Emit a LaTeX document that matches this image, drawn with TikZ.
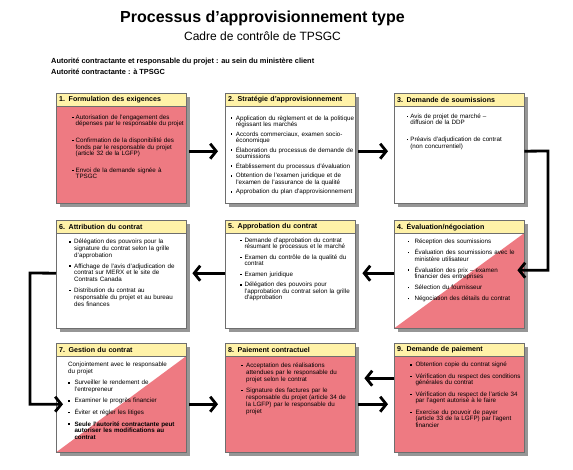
\documentclass[tikz,border=0pt]{standalone}
\usepackage{fontspec}
\setmainfont{Liberation Sans}
\usetikzlibrary{arrows.meta,shadows}

\definecolor{pinkc}{RGB}{238,122,130}
\definecolor{hdrc}{RGB}{255,242,168}
\definecolor{shadc}{RGB}{150,150,150}
\definecolor{bordc}{RGB}{110,110,110}

\newlength\bh
\newcommand\bul{\raisebox{1.3pt}{\rule{1.4pt}{1.4pt}}}
\newcommand\bi[1]{\par\noindent\hangindent=\bh\hangafter=1\makebox[\bh][l]{\bul}#1\par}
\newcommand\fst{\rule{0pt}{5pt}}
\newcommand\nl{\newline}
\newcommand\cset[3]{\setlength\bh{#1}\fontsize{6.25}{#2}\selectfont\setlength\parskip{#3}\lineskiplimit=-10pt\lineskip=0pt\parindent=0pt\hyphenpenalty=10000\vskip-\parskip}

\begin{document}
\begin{tikzpicture}[x=1pt,y=-1pt,
  box/.style={draw=bordc, line width=0.4pt, minimum width=130pt, anchor=north west, inner sep=0pt,
    drop shadow={shadow xshift=4pt, shadow yshift=-4pt, fill=shadc, opacity=1}},
  hdr/.style={draw=bordc, line width=0.4pt, fill=hdrc, anchor=north west, text width=124pt,
    inner xsep=3pt, inner ysep=0pt, minimum height=13pt, font=\bfseries\fontsize{7.1}{8}\selectfont},
  cnt/.style={anchor=north west, inner sep=0pt, text width=132pt, font=\fontsize{6.25}{6.6}\selectfont},
  arr/.style={line width=2.8pt, -{Straight Barb[length=6pt,width=15pt]}},
]
\useasboundingbox (0,0) rectangle (573,469);

% titles
\node[font=\bfseries\fontsize{16}{18}\selectfont] (title) at (262.5,18) {Processus d’approvisionnement type};
\node[font=\fontsize{12}{14}\selectfont] (sub) at (262.5,36) {Cadre de contrôle de TPSGC};
\node[anchor=west, inner sep=0pt, font=\bfseries\fontsize{7.4}{8}\selectfont] (l1) at (51,62) {Autorité contractante et responsable du projet : au sein du ministère client};
\node[anchor=west, inner sep=0pt, font=\bfseries\fontsize{7.4}{8}\selectfont] (l2) at (51,72) {Autorité contractante : à TPSGC};

% ---------- Row 1
\node[box, fill=pinkc, minimum height=110pt] (b1) at (56,93) {};
\node[hdr] (h1) at (b1.north west) {1. Formulation des exigences};
\node[cnt] (t1) at ([xshift=16pt,yshift=-19.4pt]b1.north west) {\cset{3.5pt}{6.6pt}{10pt}%
\bi{\fst Autorisation de l’engagement des\nl dépenses par le responsable du projet}
\bi{Confirmation de la disponibilité des\nl fonds par le responsable du projet\nl (article 32 de la LGFP)}
\bi{Envoi de la demande signée à\nl TPSGC}};

\node[box, fill=white, minimum height=110pt] (b2) at (225,93) {};
\node[hdr] (h2) at (b2.north west) {2. Stratégie d’approvisionnement};
\node[cnt] (t2) at ([xshift=5.5pt,yshift=-20.7pt]b2.north west) {\cset{5.2pt}{6.2pt}{3.6pt}%
\bi{\fst Application du règlement et de la politique\nl régissant les marchés}
\bi{Accords commerciaux, examen socio-\nl économique}
\bi{Élaboration du processus de demande de\nl soumissions}
\bi{Établissement du processus d’évaluation}
\bi{Obtention de l’examen juridique et de\nl l’examen de l’assurance de la qualité}
\bi{Approbation du plan d’approvisionnement}};

\node[box, fill=white, minimum height=110pt] (b3) at (394,93) {};
\node[hdr] (h3) at (b3.north west) {3. Demande de soumissions};
\node[cnt] (t3) at ([xshift=12.7pt,yshift=-18.4pt]b3.north west) {\cset{3.5pt}{6.6pt}{10pt}%
\bi{\fst Avis de projet de marché –\nl diffusion de la DDP}
\bi{Préavis d’adjudication de contrat\nl (non concurrentiel)}};

% ---------- Row 2
\node[box, fill=white, minimum height=108pt] (b6) at (56,220) {};
\node[hdr] (h6) at (b6.north west) {6. Attribution du contrat};
\node[cnt] (t6) at ([xshift=13pt,yshift=-16.7pt]b6.north west) {\cset{5pt}{6.9pt}{3.5pt}%
\bi{\fst Délégation des pouvoirs pour la\nl signature du contrat selon la grille\nl d’approbation}
\bi{Affichage de l’avis d’adjudication de\nl contrat sur MERX et le site de\nl Contrats Canada}
\bi{Distribution du contrat au\nl responsable du projet et au bureau\nl des finances}};

\node[box, fill=white, minimum height=108pt] (b5) at (225,220) {};
\node[hdr] (h5) at (b5.north west) {5. Approbation du contrat};
\node[cnt] (t5) at ([xshift=15pt,yshift=-16pt]b5.north west) {\cset{4.3pt}{6.2pt}{4.5pt}%
\bi{\fst Demande d’approbation du contrat\nl résumant le processus et le marché}
\bi{Examen du contrôle de la qualité du\nl contrat}
\bi{Examen juridique}
\bi{Délégation des pouvoirs pour\nl l’approbation du contrat selon la grille\nl d’approbation}};

\node[box, fill=white, minimum height=108pt] (b4) at (394,220) {};
\fill[pinkc] (b4.south west) -- (b4.south east) -- ([yshift=-13pt]b4.north east) -- cycle;
\draw[bordc, line width=0.4pt] (b4.north west) rectangle (b4.south east);
\node[hdr] (h4) at (b4.north west) {4. Évaluation/négociation};
\node[cnt] (t4) at ([xshift=13.7pt,yshift=-16.7pt]b4.north west) {\cset{6.6pt}{6.6pt}{4.4pt}%
\bi{\fst Réception des soumissions}
\bi{Évaluation des soumissions avec le\nl ministère utilisateur}
\bi{Évaluation des prix – examen\nl financier des entreprises}
\bi{Sélection du fournisseur}
\bi{Négociation des détails du contrat}};

% ---------- Row 3
\node[box, fill=white, minimum height=109pt] (b7) at (56,343) {};
\fill[pinkc] (b7.south west) -- (b7.south east) -- ([yshift=-13pt]b7.north east) -- cycle;
\draw[bordc, line width=0.4pt] (b7.north west) rectangle (b7.south east);
\node[hdr] (h7) at (b7.north west) {7. Gestion du contrat};
\node[cnt] (t7) at ([xshift=12pt,yshift=-17pt]b7.north west) {\cset{6.3pt}{6.5pt}{5.1pt}%
\par\noindent\fst Conjointement avec le responsable\nl du projet\par
\bi{Surveiller le rendement de\nl l’entrepreneur}
\bi{Examiner le progrès financier}
\bi{Éviter et régler les litiges}
\bi{\bfseries Seule l’autorité contractante peut\nl autoriser les modifications au\nl contrat}};

\node[box, fill=pinkc, minimum height=109pt] (b8) at (225,343) {};
\node[hdr] (h8) at (b8.north west) {8. Paiement contractuel};
\node[cnt] (t8) at ([xshift=16pt,yshift=-17pt]b8.north west) {\cset{5pt}{7pt}{4pt}%
\bi{\fst Acceptation des réalisations\nl attendues par le responsable du\nl projet selon le contrat}
\bi{Signature des factures par le\nl responsable du projet (article 34 de\nl la LGFP) par le responsable du\nl projet}};

\node[box, fill=pinkc, minimum height=109pt] (b9) at (394,343) {};
\node[hdr] (h9) at (b9.north west) {9. Demande de paiement};
\node[cnt] (t9) at ([xshift=16pt,yshift=-17pt]b9.north west) {\cset{5.3pt}{6.7pt}{4.6pt}%
\bi{\fst Obtention copie du contrat signé}
\bi{Vérification du respect des conditions\nl générales du contrat}
\bi{Vérification du respect de l’article 34\nl par l’agent autorisé à le faire}
\bi{Exercise du pouvoir de payer\nl (article 33 de la LGFP) par l’agent\nl financier}};

% ---------- Connectors
\coordinate (c34) at (548,151);
\coordinate (c67) at (30,273);
\draw[arr] ([xshift=3pt,yshift=-3pt]b1.east) -- ([xshift=-7pt,yshift=-3pt]b2.west);
\draw[arr] ([xshift=3pt,yshift=-3pt]b2.east) -- ([xshift=-6pt,yshift=-3pt]b3.west);
\draw[arr] ([yshift=-3pt]b3.east) -- (c34) |- ([xshift=-7pt,yshift=4pt]b4.east);
\draw[arr] ([yshift=1pt]b4.west) -- ([xshift=7pt,yshift=1pt]b5.east);
\draw[arr] ([yshift=1pt]b5.west) -- ([xshift=6pt,yshift=1pt]b6.east);
\draw[arr] ([yshift=1pt]b6.west) -- (c67) |- ([xshift=7pt,yshift=-6.5pt]b7.west);
\draw[arr] ([xshift=3pt,yshift=-6.5pt]b7.east) -- ([xshift=-7pt,yshift=-6.5pt]b8.west);
\draw[arr] ([xshift=3pt,yshift=-6.5pt]b8.east) -- ([xshift=-6pt,yshift=-6.5pt]b9.west);
\draw[arr] ([yshift=19.5pt]b9.west) -- ([xshift=9pt,yshift=19.5pt]b8.east);
\end{tikzpicture}
\end{document}
